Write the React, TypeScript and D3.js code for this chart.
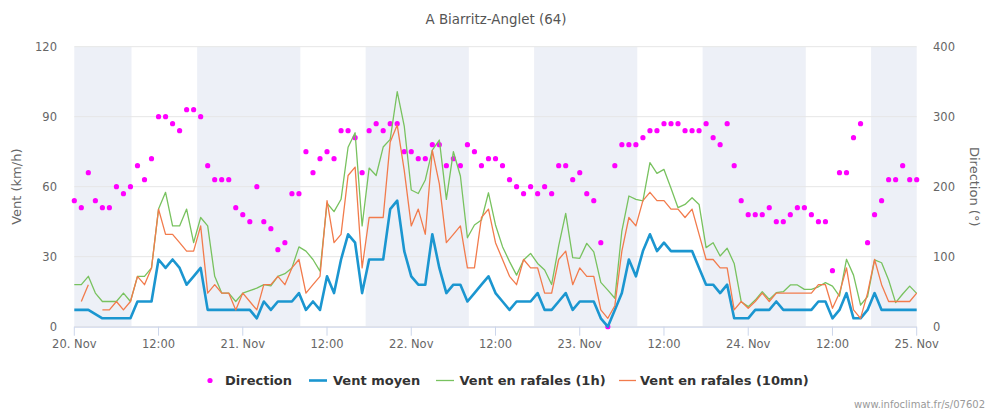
import React from 'react';
import * as d3 from 'd3';

// hourly samples, 20 Nov 00:00 -> 25 Nov 00:00 (121 points)
const direction: number[] = [
  180,170,220,180,170,170,200,190,200,230,210,240,300,300,290,280,310,310,300,230,210,210,210,170,
  160,150,200,150,140,110,120,190,190,250,220,240,250,240,280,280,270,220,280,290,280,290,290,250,
  250,240,240,260,260,230,240,230,260,250,230,240,240,230,210,200,190,200,190,200,190,230,230,210,
  220,190,180,120,0,230,260,260,260,270,280,280,290,290,290,280,280,280,290,270,260,290,230,180,
  160,160,160,170,150,150,160,170,170,160,150,150,80,220,220,270,290,120,160,180,210,210,230,210,210,
];

const ventMoyen: number[] = [
  7.2,7.2,7.2,5.4,3.6,3.6,3.6,3.6,3.6,10.8,10.8,10.8,28.8,25.2,28.8,25.2,18,21.6,25.2,7.2,7.2,7.2,7.2,7.2,
  7.2,7.2,3.6,10.8,7.2,10.8,10.8,10.8,14.4,7.2,10.8,7.2,21.6,14.4,28.8,39.6,36,14.4,28.8,28.8,28.8,50.4,54,32.4,
  21.6,18,18,39.6,25.2,14.4,18,18,10.8,14.4,18,21.6,14.4,10.8,7.2,10.8,10.8,10.8,14.4,7.2,7.2,10.8,14.4,7.2,
  10.8,10.8,10.8,3.6,0,7.2,14.4,28.8,21.6,32.4,39.6,32.4,36,32.4,32.4,32.4,32.4,25.2,18,18,14.4,18,3.6,3.6,
  3.6,7.2,7.2,7.2,10.8,7.2,7.2,7.2,7.2,7.2,10.8,10.8,3.6,7.2,14.4,3.6,3.6,7.2,14.4,7.2,7.2,7.2,7.2,7.2,7.2,
];

const rafales1h: number[] = [
  18,18,21.6,14.4,10.8,10.8,10.8,14.4,10.8,21.6,21.6,25.2,50.4,57.6,43.2,43.2,50.4,36,46.8,43.2,21.6,14.4,14.4,10.8,
  14.4,15.5,16.5,18,17.5,21.6,22.7,25.2,34.2,32.4,28.8,23.8,52.9,49.3,54.6,76.9,83.1,43.2,68,64.8,77,80.3,100.7,86,
  58.6,57.1,62.9,75.7,80,54.6,75,64.6,38.1,43.6,45.7,57.4,43.6,34.3,27.9,22.1,28.6,31.4,27.1,24.3,18.1,34.6,48.6,29.6,
  29.3,35.7,32.1,19,15.7,12.2,41,56,54.6,53.9,70.3,65.7,67.4,59.3,51,52.4,55.3,52.4,33.9,36,30.3,33.6,27.1,10.7,
  8.6,11.4,15,11.7,14.6,15,17.9,17.9,16,16,17.1,18.9,17.4,13.1,28.9,22.1,9.3,12.9,28.6,27.4,20,10.3,14,17.4,14.3,
];

const rafales10mn: (number | null)[] = [
  null,10.8,18,null,7.2,7.2,10.8,7.2,10.8,21.6,18,25.2,50.4,39.6,39.6,36,32.4,32.4,43.2,14.4,18,14.4,14.4,7.2,
  14.4,10.8,7.2,18,18,21.6,18,25.2,28.8,14.4,18,21.6,54,36,39.6,64.8,68.4,25.2,46.8,46.8,46.8,79.2,86.4,67,
  43.2,50.4,39.6,75.6,61.2,36,39.6,43.2,25.2,25.2,46.8,50.4,36,28.8,21.6,18,28.8,25.2,25.2,14.4,14.4,28.8,32.4,18,
  25.2,21.6,21.6,7.2,3.6,9,32.4,46.8,43.2,54,57.6,54,54,50.4,50.4,46.8,50.4,39.6,28.8,28.8,25.2,25.2,7.2,10.8,
  7.9,10.8,14.4,10.8,14.4,14.4,14.4,14.4,14.4,14.4,18,18,7.9,14.4,25.2,7.2,3.6,14.4,28.8,18,10.8,10.8,10.8,10.8,14.4,
];

// night bands (hours since 20 Nov 00:00)
const nightStart: number[] = [0, 17.5, 41.5, 65.5, 89.5, 113.5];
const nightEnd: number[] = [8.15, 32.2, 56.2, 80.2, 104.2, 120];

const xTickHours: number[] = [0, 12, 24, 36, 48, 60, 72, 84, 96, 108, 120];
const xTickLabels: string[] = ['20. Nov','12:00','21. Nov','12:00','22. Nov','12:00','23. Nov','12:00','24. Nov','12:00','25. Nov'];
const yTicks: number[] = [0, 30, 60, 90, 120];
const dirTicks: number[] = [0, 100, 200, 300, 400];

const FONT = '"DejaVu Sans", sans-serif';
const C_DIR = '#ff00ff';
const C_MOY = '#1b96d0';
const C_R1H = '#78c25f';
const C_R10 = '#f27b4c';

export default function App() {
  const W = 990, H = 412;
  const left = 74.3, right = 916.7, top = 46.7, bottom = 326.7;
  const x = d3.scaleLinear().domain([0, 120]).range([left, right]);
  const y = d3.scaleLinear().domain([0, 120]).range([bottom, top]);
  const yDir = d3.scaleLinear().domain([0, 400]).range([bottom, top]);

  const mk = (arr: (number | null)[]) =>
    d3.line<number | null>()
      .defined((d) => d != null)
      .x((_, i) => x(i))
      .y((d) => y(d as number))(arr) || '';

  return (
    <svg width={W} height={H} style={{ position: 'absolute', left: 0, top: 0, background: '#fff' }} fontFamily={FONT}>
      <rect x={0} y={0} width={W} height={H} fill="#fff" />
      {/* night bands */}
      {nightStart.map((s, i) => (
        <rect key={'b' + i} x={x(s)} y={top} width={x(nightEnd[i]) - x(s)} height={bottom - top} fill="#edf0f7" />
      ))}
      {/* grid */}
      {yTicks.map((t) => (
        <line key={'g' + t} x1={left} x2={right} y1={y(t)} y2={y(t)} stroke="#e6e6e6" strokeWidth={1} />
      ))}
      {/* x axis */}
      <line x1={left} x2={right} y1={bottom + 0.5} y2={bottom + 0.5} stroke="#ccd6eb" strokeWidth={1} />
      {xTickHours.map((h, i) => (
        <g key={'xt' + i}>
          <line x1={x(h)} x2={x(h)} y1={bottom} y2={bottom + 9} stroke="#ccd6eb" strokeWidth={1} />
          <text x={x(h)} y={347.5} textAnchor="middle" fontSize={11.5} fill="#666">{xTickLabels[i]}</text>
        </g>
      ))}
      {/* y axis labels */}
      {yTicks.map((t) => (
        <text key={'yl' + t} x={57} y={y(t) + 4} textAnchor="end" fontSize={11.5} fill="#666">{t}</text>
      ))}
      {dirTicks.map((t) => (
        <text key={'dl' + t} x={933} y={yDir(t) + 4} textAnchor="start" fontSize={11.5} fill="#666">{t}</text>
      ))}
      <text transform={`translate(21,${(top + bottom) / 2}) rotate(-90)`} textAnchor="middle" fontSize={13} fill="#666">Vent (km/h)</text>
      <text transform={`translate(970,${(top + bottom) / 2}) rotate(90)`} textAnchor="middle" fontSize={13} fill="#666">Direction (°)</text>
      {/* title */}
      <text x={496} y={24} textAnchor="middle" fontSize={13.4} fill="#555">A Biarritz-Anglet (64)</text>

      {/* series */}
      {direction.map((d, i) => (
        <circle key={'d' + i} cx={x(i)} cy={yDir(d)} r={2.6} fill={C_DIR} />
      ))}
      <path d={mk(ventMoyen)} fill="none" stroke={C_MOY} strokeWidth={2.6} strokeLinejoin="round" />
      <path d={mk(rafales1h)} fill="none" stroke={C_R1H} strokeWidth={1.3} strokeLinejoin="round" />
      <path d={mk(rafales10mn)} fill="none" stroke={C_R10} strokeWidth={1.3} strokeLinejoin="round" />

      {/* legend */}
      <g fontSize={13} fontWeight="bold" fill="#333">
        <circle cx={210} cy={380.5} r={2.6} fill={C_DIR} />
        <text x={225} y={385}>Direction</text>
        <line x1={309} x2={327} y1={380.5} y2={380.5} stroke={C_MOY} strokeWidth={2.6} />
        <text x={333} y={385}>Vent moyen</text>
        <line x1={436} x2={454} y1={380.5} y2={380.5} stroke={C_R1H} strokeWidth={1.3} />
        <text x={459.5} y={385}>Vent en rafales (1h)</text>
        <line x1={619} x2={636} y1={380.5} y2={380.5} stroke={C_R10} strokeWidth={1.3} />
        <text x={640} y={385}>Vent en rafales (10mn)</text>
      </g>
      {/* credits */}
      <text x={985} y={408} textAnchor="end" fontSize={10} fill="#999">www.infoclimat.fr/s/07602</text>
    </svg>
  );
}
